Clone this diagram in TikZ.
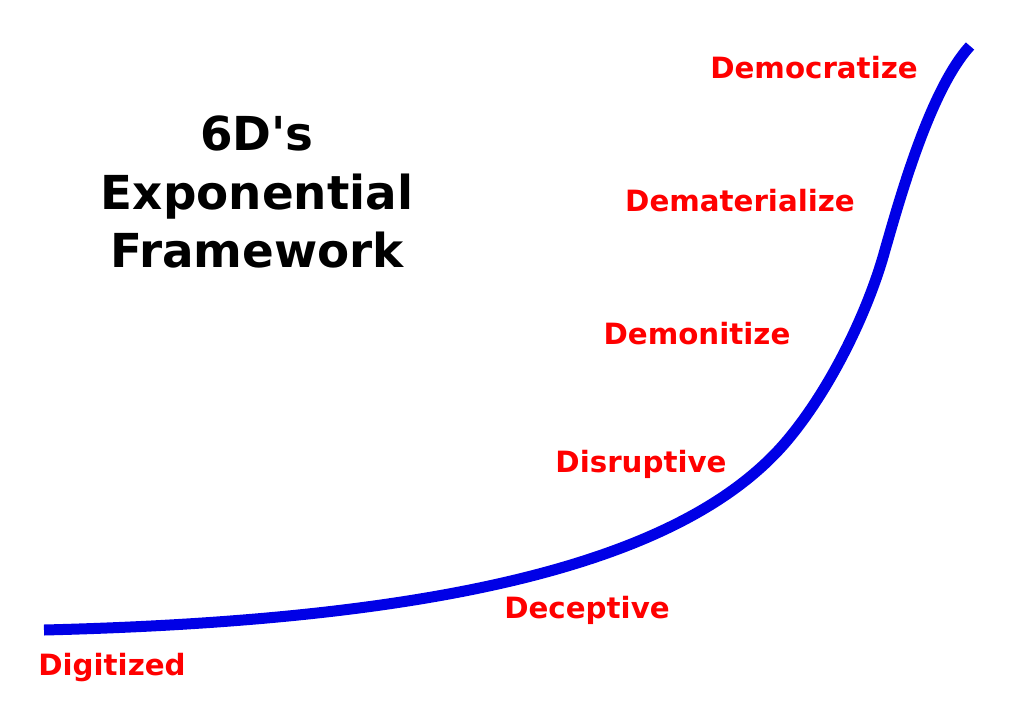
\documentclass[tikz,border=0pt]{standalone}
\usepackage{fontspec}
\setmainfont{DejaVu Sans}
\usepackage{xcolor}
\usepackage{tikz}
\usetikzlibrary{positioning,calc}
\definecolor{curveblue}{RGB}{0,0,230}
\tikzset{
  stage/.style={text=red, font=\fontsize{29.3}{35}\selectfont\bfseries, inner sep=0pt},
  heading/.style={align=center, font=\fontsize{46.8}{58.5}\selectfont\bfseries, inner sep=0pt}
}

\begin{document}
\begin{tikzpicture}[x=1pt,y=-1pt]
    \useasboundingbox (0,0) rectangle (1024,725);

    % Title
    \node[heading] (title) at (257,192) {6D\textquotesingle s\\Exponential\\Framework};

    % Growth curve
    \draw[curveblue, line width=11pt] (44,630)
        .. controls (450,620) and (690,560) .. (790,437)
        .. controls (835,382) and (870,305) .. (885,250)
        .. controls (900,198) and (930,90) .. (970,46);

    % Stages
    \node[stage] (digitized) at (112,668) {Digitized};
    \node[stage] (deceptive) at (587,610) {Deceptive};
    \node[stage] (disruptive) at (641,464) {Disruptive};
    \node[stage] (demonitize) at (697,334) {Demonitize};
    \node[stage] (dematerialize) at (740,201) {Dematerialize};
    \node[stage] (democratize) at (814,68) {Democratize};
\end{tikzpicture}
\end{document}
